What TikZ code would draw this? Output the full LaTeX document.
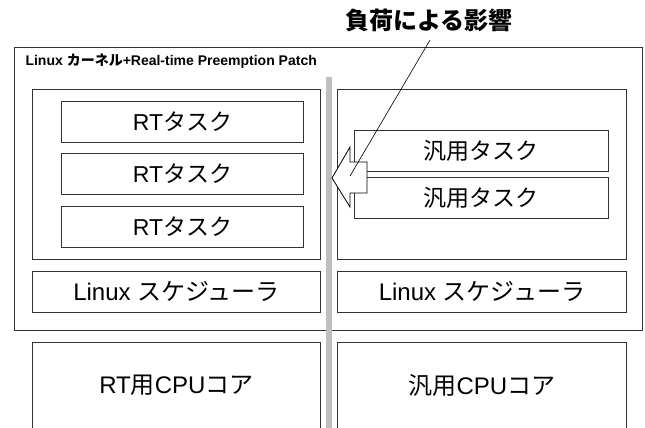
\documentclass[tikz,border=0pt]{standalone}
\usepackage{fontspec}
\setmainfont{Liberation Sans}
\newfontfamily\jp{Noto Sans CJK JP}
\begin{document}
\begin{tikzpicture}[x=1pt,y=-1pt,
  box/.style={draw=black!80, line width=0.9pt, fill=white, inner sep=0pt, anchor=north west},
  lbl/.style={font=\fontsize{23}{26}\selectfont},
  biglbl/.style={font=\fontsize{24}{27}\selectfont},
  bar/.style={fill=black!25, draw=none},
  ann/.style={draw=black, line width=0.6pt}
]
\useasboundingbox (0,0) rectangle (645,428);
% kernel frame
\node[box, minimum width=628pt, minimum height=283pt] (kernel) at (14,47) {};
\node[anchor=base west, font=\fontsize{14}{16}\selectfont\bfseries] (klabel) at (22,66)
  {Linux {\jp カーネル}+Real-time Preemption Patch};
% divider
\fill[bar] (326,77) rectangle (332,428);
% inner groups
\node[box, minimum width=288pt, minimum height=170pt] (lgrp) at (32,89) {};
\node[box, minimum width=289pt, minimum height=170pt] (rgrp) at (337,89) {};
% RT tasks
\node[box, lbl, minimum width=242pt, minimum height=41pt] (rt1) at (61,101) {RT{\jp タスク}};
\node[box, lbl, minimum width=242pt, minimum height=41pt] (rt2) at (61,153) {RT{\jp タスク}};
\node[box, lbl, minimum width=242pt, minimum height=41pt] (rt3) at (61,206) {RT{\jp タスク}};
% general tasks
\node[box, lbl, minimum width=254pt, minimum height=41pt] (gt1) at (354,130) {\jp 汎用タスク};
\node[box, lbl, minimum width=254pt, minimum height=41pt] (gt2) at (354,177) {\jp 汎用タスク};
% schedulers
\node[box, biglbl, minimum width=288pt, minimum height=41pt] (sl) at (32,271) {Linux {\jp スケジューラ}};
\node[box, biglbl, minimum width=289pt, minimum height=41pt] (sr) at (337,271) {Linux {\jp スケジューラ}};
% CPU cores (open at the bottom)
\node[box, biglbl, draw=none, minimum width=288pt, minimum height=86pt] (cl) at (32,342) {RT{\jp 用}CPU{\jp コア}};
\node[box, biglbl, draw=none, minimum width=289pt, minimum height=86pt] (cr) at (337,342) {{\jp 汎用}CPU{\jp コア}};
\draw[draw=black!80, line width=0.9pt] (cl.south west) -- (cl.north west) -- (cl.north east) -- (cl.south east);
\draw[draw=black!80, line width=0.9pt] (cr.south west) -- (cr.north west) -- (cr.north east) -- (cr.south east);
% load arrow
\draw[draw=black, line width=0.8pt, fill=white] (332,178) -- (350,147) -- (350,162) -- (367,162)
  -- (367,193) -- (350,193) -- (350,207) -- cycle;
\coordinate (hit) at (350,176);
% annotation
\node[font=\fontsize{24}{27}\selectfont\bfseries\jp] (title) at (429,20) {負荷による影響};
\coordinate (annstart) at (430,40);
\draw[ann] (annstart) -- (hit);
\end{tikzpicture}
\end{document}
